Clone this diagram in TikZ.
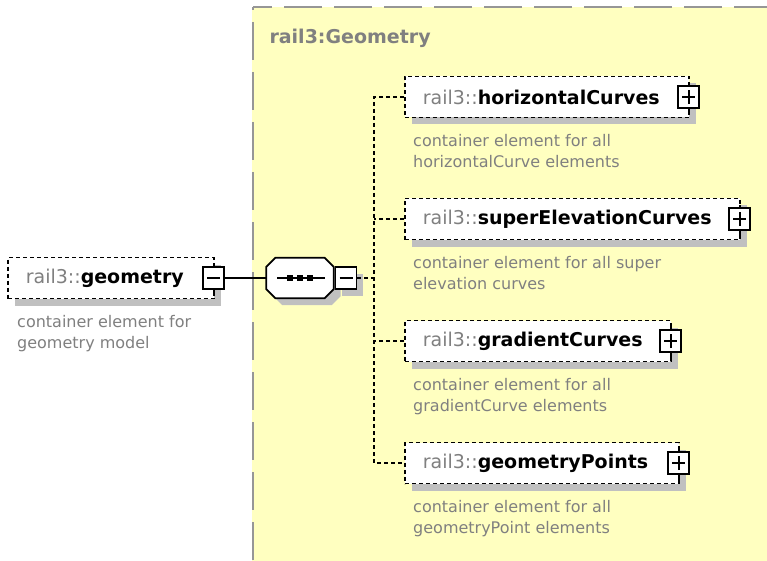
\documentclass[tikz,border=0pt]{standalone}
\usepackage{fontspec}
\setmainfont{DejaVu Sans}
\usetikzlibrary{shadows}

\definecolor{bgyellow}{RGB}{255,255,192}
\definecolor{shadowgray}{RGB}{192,192,192}
\definecolor{nsgray}{RGB}{128,128,128}
\definecolor{framegray}{RGB}{150,150,150}

% outline of the sequence compositor, shifted by #1
\newcommand{\seqoct}[1]{([shift={(#1+9,#1)}]seq.north west) -- ([shift={(#1-9,#1)}]seq.north east)
	-- ([shift={(#1,#1+9)}]seq.north east) -- ([shift={(#1,#1-9)}]seq.south east)
	-- ([shift={(#1-9,#1)}]seq.south east) -- ([shift={(#1+9,#1)}]seq.south west)
	-- ([shift={(#1,#1-9)}]seq.south west) -- ([shift={(#1,#1+9)}]seq.north west) -- cycle}

\tikzset{
	boxshadow/.style={drop shadow={shadow xshift=7pt, shadow yshift=-7pt, fill=shadowgray, opacity=1}},
	elem/.style={draw, line width=1.7pt, dash pattern=on 4pt off 3pt, fill=white, anchor=west,
		minimum height=41pt, inner xsep=18pt, inner ysep=0pt, align=left,
		font=\fontsize{19}{23}\selectfont, boxshadow},
	desc/.style={anchor=north west, inner sep=0pt, align=left, text=nsgray,
		font=\fontsize{16}{21}\selectfont},
	pmbox/.style={draw, fill=white, line width=1.6pt, minimum width=21pt, minimum height=22pt, inner sep=0pt},
	minusbox/.style={pmbox, path picture={
		\draw[line width=1.6pt] ([xshift=4pt]path picture bounding box.west) -- ([xshift=-4pt]path picture bounding box.east);}},
	plusbox/.style={pmbox, path picture={
		\draw[line width=1.6pt] ([xshift=4pt]path picture bounding box.west) -- ([xshift=-4pt]path picture bounding box.east);
		\draw[line width=1.6pt] ([yshift=4pt]path picture bounding box.south) -- ([yshift=-4pt]path picture bounding box.north);}},
	link/.style={line width=1.7pt, dash pattern=on 4pt off 3pt},
}

\begin{document}
\begin{tikzpicture}[x=1pt,y=-1pt]
	\fill[white] (0,0) rectangle (767,561);
	\useasboundingbox (0,0) rectangle (767,561);

	% complex type area
	\fill[bgyellow] (252,7) rectangle (767,561);
	\draw[framegray, line width=2pt, dash pattern=on 38pt off 12pt, dash phase=19pt] (253,7) -- (767,7);
	\draw[framegray, line width=2pt, dash pattern=on 38pt off 12pt, dash phase=35pt] (253,7) -- (253,561);
	\node[anchor=west, text=nsgray, font=\fontsize{19}{23}\selectfont\bfseries] (title) at (266,38) {rail3:Geometry};

	% root element
	\node[elem, text width=170pt] (geo) at (7,278) {\textcolor{nsgray}{rail3::}\textbf{geometry}};
	\node[desc] (geodesc) at (17,315) {container element for\\geometry model};
	\node[minusbox] (gm) at ([xshift=-1pt]geo.east) {};

	% sequence
	\node[minimum width=67pt, minimum height=40pt, inner sep=0pt] (seq) at (300,278) {};
	\fill[shadowgray] \seqoct{7};
	\fill[shadowgray] ([shift={(8,-4)}]seq.east) rectangle ([shift={(29,18)}]seq.east);
	\draw[fill=white, line width=1.7pt] \seqoct{0};
	\draw[line width=1.7pt] ([xshift=-23pt]seq.center) -- ([xshift=25pt]seq.center);
	\foreach \x in {-10,0,10}
		\fill ([xshift=\x pt-3pt,yshift=-3pt]seq.center) rectangle ([xshift=\x pt+3pt,yshift=3pt]seq.center);
	\node[minusbox, anchor=west] (sm) at ([xshift=1pt]seq.east) {};

	% children
	\node[elem, text width=248pt] (hc) at (404,97) {\textcolor{nsgray}{rail3::}\textbf{horizontalCurves}};
	\node[elem, text width=299pt] (se) at (404,219) {\textcolor{nsgray}{rail3::}\textbf{superElevationCurves}};
	\node[elem, text width=230pt] (gc) at (404,341) {\textcolor{nsgray}{rail3::}\textbf{gradientCurves}};
	\node[elem, text width=238pt] (gp) at (404,463) {\textcolor{nsgray}{rail3::}\textbf{geometryPoints}};

	\node[plusbox] (hcp) at ([xshift=-1pt]hc.east) {};
	\node[plusbox] (sep) at ([xshift=-1pt]se.east) {};
	\node[plusbox] (gcp) at ([xshift=-1pt]gc.east) {};
	\node[plusbox] (gpp) at ([xshift=-1pt]gp.east) {};

	\node[desc] (hcdesc) at (413,134) {container element for all\\horizontalCurve elements};
	\node[desc] (sedesc) at (413,256) {container element for all super\\elevation curves};
	\node[desc] (gcdesc) at (413,378) {container element for all\\gradientCurve elements};
	\node[desc] (gpdesc) at (413,500) {container element for all\\geometryPoint elements};

	% ticks of the expand boxes
	\foreach \n in {gm,hcp,sep,gcp,gpp}
		\draw[line width=1.6pt] (\n.north) -- ++(0,-2) (\n.south) -- ++(0,6);

	% connectors
	\coordinate (fork) at (374,278);
	\draw[line width=1.7pt] (gm.east) -- (seq.west);
	\draw[link] (sm.east) -- (fork);
	\draw[link] (hc.west) -| (fork) |- (gp.west);
	\draw[link] (se.west) -- (se.west -| fork);
	\draw[link] (gc.west) -- (gc.west -| fork);
\end{tikzpicture}
\end{document}
